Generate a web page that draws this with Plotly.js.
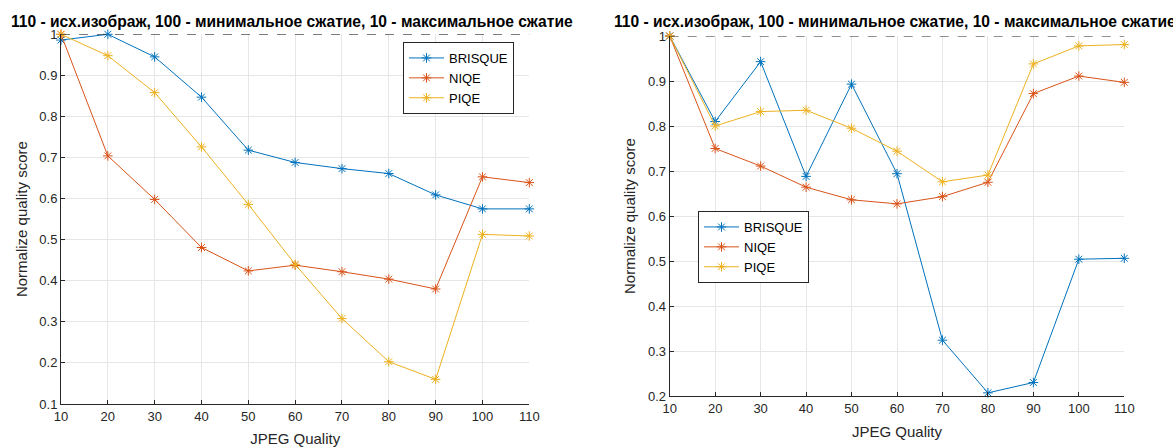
<!DOCTYPE html>
<html>
<head>
<meta charset="utf-8">
<script src="https://cdn.plot.ly/plotly-3.0.1.min.js"></script>
<style>html,body{margin:0;padding:0;background:#fff;}#chart{width:1173px;height:447px;}</style>
</head>
<body>
<div id="chart"></div>
<script>
const jpegQuality = [10, 20, 30, 40, 50, 60, 70, 80, 90, 100, 110];
const seriesNames = ['BRISQUE', 'NIQE', 'PIQE'];

const brisqueA = [0.986, 1.000, 0.945, 0.847, 0.718, 0.688, 0.673, 0.661, 0.609, 0.575, 0.575];
const niqeA    = [1.000, 0.704, 0.598, 0.481, 0.424, 0.438, 0.422, 0.404, 0.380, 0.653, 0.639];
const piqeA    = [1.000, 0.948, 0.858, 0.726, 0.586, 0.440, 0.308, 0.203, 0.160, 0.513, 0.509];

const brisqueB = [1.000, 0.810, 0.943, 0.688, 0.893, 0.694, 0.324, 0.207, 0.230, 0.504, 0.506];
const niqeB    = [1.000, 0.750, 0.711, 0.664, 0.636, 0.627, 0.643, 0.675, 0.872, 0.911, 0.897];
const piqeB    = [1.000, 0.800, 0.832, 0.835, 0.795, 0.744, 0.676, 0.691, 0.938, 0.978, 0.981];

const yTicksA = [0.1, 0.2, 0.3, 0.4, 0.5, 0.6, 0.7, 0.8, 0.9, 1];
const yTicksB = [0.2, 0.3, 0.4, 0.5, 0.6, 0.7, 0.8, 0.9, 1];
const refLevel = 1;

const titleText = '110 - исх.изображ, 100 - минимальное сжатие, 10 - максимальное сжатие';
const xTitle = 'JPEG Quality';
const yTitle = 'Normalize quality score';

const colors = ['#0072BD', '#D95319', '#EDB120'];
const FONT = 'Liberation Sans, Arial, Helvetica, sans-serif';

function mk(y, i, xa, ya, legendName) {
  return {
    x: jpegQuality, y: y, type: 'scatter', mode: 'lines+markers',
    name: seriesNames[i], xaxis: xa, yaxis: ya, showlegend: true,
    legend: legendName,
    line: {color: colors[i], width: 1},
    marker: {symbol: 'asterisk-open', size: 8, color: colors[i], line: {color: colors[i], width: 1}},
    cliponaxis: false
  };
}

const traces = [
  mk(brisqueA, 0, 'x', 'y', 'legend'),
  mk(niqeA, 1, 'x', 'y', 'legend'),
  mk(piqeA, 2, 'x', 'y', 'legend'),
  mk(brisqueB, 0, 'x2', 'y2', 'legend2'),
  mk(niqeB, 1, 'x2', 'y2', 'legend2'),
  mk(piqeB, 2, 'x2', 'y2', 'legend2')
];

const W = 1173, H = 447;
function xa(d) {
  return {
    domain: d, range: [10, 110], tickvals: jpegQuality, ticks: 'inside', ticklen: 4,
    tickcolor: '#262626', showline: true, linecolor: '#262626', linewidth: 1,
    showgrid: true, gridcolor: '#e6e6e6', zeroline: false, fixedrange: true,
    tickfont: {family: FONT, size: 13, color: '#262626'},
    title: {text: xTitle, font: {family: FONT, size: 15, color: '#262626'}, standoff: 11},
    automargin: false
  };
}
function ya(d, r, tv) {
  return {
    domain: d, range: r, tickvals: tv, ticktext: tv.map(v => String(v)), ticks: 'inside', ticklen: 4,
    tickcolor: '#262626', showline: true, linecolor: '#262626', linewidth: 1,
    showgrid: true, gridcolor: '#e6e6e6', zeroline: false, fixedrange: true,
    tickfont: {family: FONT, size: 13, color: '#262626'},
    title: {text: yTitle, font: {family: FONT, size: 15, color: '#262626'}, standoff: 8},
    automargin: false
  };
}

const legendStyle = {
  xanchor: 'left', yanchor: 'top',
  bgcolor: '#ffffff', bordercolor: '#262626', borderwidth: 1,
  font: {family: FONT, size: 13, color: '#000'}, tracegroupgap: 0, itemwidth: 35
};

const layout = {
  width: W, height: H,
  margin: {l: 0, r: 0, t: 0, b: 0},
  paper_bgcolor: '#ffffff', plot_bgcolor: '#ffffff',
  font: {family: FONT, color: '#262626'},
  showlegend: true,
  xaxis: Object.assign(xa([61/W, 529.3/W]), {anchor: 'y'}),
  yaxis: Object.assign(ya([1 - 404/H, 1 - 34.3/H], [0.1, 1], yTicksA), {anchor: 'x'}),
  xaxis2: Object.assign(xa([669.7/W, 1124.3/W]), {anchor: 'y2'}),
  yaxis2: Object.assign(ya([1 - 396/H, 1 - 36/H], [0.2, 1], yTicksB), {anchor: 'x2'}),
  legend: Object.assign({x: 403/W, y: 1 - 42/H}, legendStyle),
  legend2: Object.assign({x: 698/W, y: 1 - 211/H}, legendStyle),
  shapes: [
    {type: 'line', xref: 'x domain', yref: 'y', x0: 0, x1: 1, y0: refLevel, y1: refLevel,
     line: {color: '#262626', width: 1, dash: 'dash'}, layer: 'above'},
    {type: 'line', xref: 'x2 domain', yref: 'y2', x0: 0, x1: 1, y0: refLevel, y1: refLevel,
     line: {color: '#262626', width: 1, dash: 'dash'}, layer: 'above'}
  ],
  annotations: [
    {text: '<b>' + titleText + '</b>', xref: 'paper', yref: 'paper', x: 292/W, y: 1 - 21/H,
     xanchor: 'center', yanchor: 'middle', showarrow: false,
     font: {family: FONT, size: 15.6, color: '#000'}},
    {text: '<b>' + titleText + '</b>', xref: 'paper', yref: 'paper', x: 895/W, y: 1 - 21/H,
     xanchor: 'center', yanchor: 'middle', showarrow: false,
     font: {family: FONT, size: 15.6, color: '#000'}}
  ]
};

Plotly.newPlot('chart', traces, layout, {staticPlot: true, displayModeBar: false});
</script>
</body>
</html>
